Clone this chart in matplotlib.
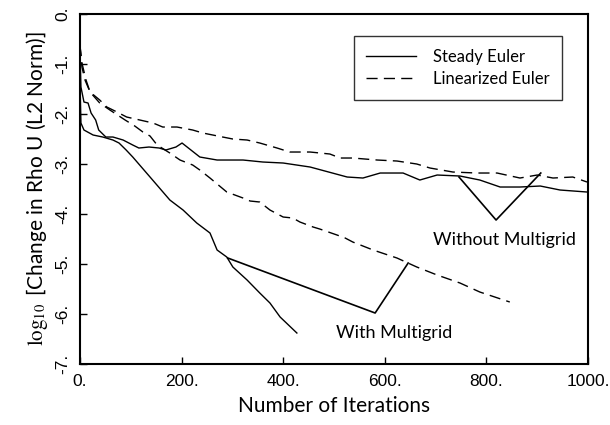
import matplotlib
matplotlib.use("Agg")
import matplotlib.pyplot as plt

plt.rcParams['mathtext.fontset'] = 'stix'

# Steady Euler, no multigrid (solid)
se_x = [0, 2, 8, 16, 22, 31, 37, 51, 65, 85, 104, 116, 136, 156, 169, 189, 201,
        236, 270, 321, 360, 400, 453, 526, 557, 591, 636, 669, 703, 748, 787,
        827, 866, 906, 945, 998]
se_y = [-0.7, -1.46, -1.76, -1.78, -1.98, -2.12, -2.32, -2.46, -2.46, -2.52, -2.62,
        -2.68, -2.66, -2.68, -2.72, -2.66, -2.58, -2.86, -2.92, -2.92, -2.96, -2.98,
        -3.06, -3.26, -3.28, -3.18, -3.18, -3.32, -3.22, -3.24, -3.32, -3.46, -3.46,
        -3.44, -3.52, -3.56]

# Steady Euler, with multigrid (solid)
se_mg_x = [0, 2, 8, 26, 45, 65, 77, 91, 104, 138, 177, 203, 230, 256, 270, 289,
           301, 329, 354, 374, 394, 427]
se_mg_y = [-1.3, -2.18, -2.32, -2.42, -2.46, -2.52, -2.58, -2.72, -2.86, -3.26,
           -3.72, -3.92, -4.18, -4.38, -4.72, -4.86, -5.06, -5.32, -5.58, -5.78,
           -6.06, -6.38]

# Linearized Euler, no multigrid (dashed)
le_x = [0, 4, 12, 20, 39, 53, 69, 92, 118, 144, 163, 191, 222, 242, 281, 301, 329,
        354, 388, 413, 453, 492, 512, 537, 585, 624, 663, 689, 734, 781, 821, 866,
        900, 931, 970, 998]
le_y = [-0.62, -0.98, -1.32, -1.56, -1.72, -1.86, -1.94, -2.06, -2.12, -2.18, -2.26,
        -2.26, -2.32, -2.38, -2.46, -2.5, -2.52, -2.58, -2.68, -2.76, -2.76, -2.8,
        -2.88, -2.88, -2.92, -2.94, -3.0, -3.08, -3.16, -3.18, -3.18, -3.28, -3.22,
        -3.28, -3.26, -3.36]

# Linearized Euler, with multigrid (dashed)
le_mg_x = [0, 4, 10, 20, 39, 59, 89, 108, 124, 138, 152, 177, 197, 222, 236, 256,
           289, 321, 335, 354, 374, 400, 419, 433, 459, 472, 506, 522, 537, 577, 624,
           663, 703, 748, 787, 846]
le_mg_y = [-0.62, -1.06, -1.32, -1.56, -1.78, -1.92, -2.12, -2.24, -2.36, -2.44,
           -2.62, -2.78, -2.92, -3.02, -3.12, -3.28, -3.56, -3.68, -3.74, -3.76,
           -3.92, -4.06, -4.08, -4.16, -4.26, -4.3, -4.42, -4.48, -4.56, -4.72,
           -4.88, -5.06, -5.22, -5.38, -5.56, -5.76]

# annotation pointers
with_mg_x = [291, 581, 646]
with_mg_y = [-4.88, -5.98, -4.98]
without_mg_x = [746, 819, 907]
without_mg_y = [-3.26, -4.12, -3.18]

xticks = [0, 200, 400, 600, 800, 1000]
yticks = [0, -1, -2, -3, -4, -5, -6, -7]

fig = plt.figure(figsize=(6.1, 4.25), dpi=100)
ax = fig.add_axes([0.131, 0.1435, 0.833, 0.8235])

lw = 1.0
dash = (0, (8, 4.5))
ax.plot(se_x, se_y, color='black', lw=lw, label='Steady Euler')
ax.plot(le_x, le_y, color='black', lw=lw, linestyle=dash, label='Linearized Euler')
ax.plot(se_mg_x, se_mg_y, color='black', lw=lw)
ax.plot(le_mg_x, le_mg_y, color='black', lw=lw, linestyle=dash)
ax.plot(with_mg_x, with_mg_y, color='black', lw=1.2)
ax.plot(without_mg_x, without_mg_y, color='black', lw=1.2)

ax.text(618, -6.38, 'With Multigrid', ha='center', va='center', fontsize=13, family='Lato')
ax.text(835, -4.52, 'Without Multigrid', ha='center', va='center', fontsize=13, family='Lato')

ax.set_xlim(0, 1000)
ax.set_ylim(-7, 0)
ax.set_xticks(xticks)
ax.set_xticklabels([f'{t}.' for t in xticks], fontsize=12.5, family='Liberation Sans')
ax.set_yticks(yticks)
ax.set_yticklabels([f'{t}.' for t in yticks], fontsize=12.5, family='Liberation Sans',
                   rotation=90, va='center')
ax.tick_params(direction='in', length=5, width=1.0, pad=7)
for s in ax.spines.values():
    s.set_linewidth(1.5)

ax.set_xlabel('Number of Iterations', fontsize=15, family='Lato', labelpad=5)
ax.set_ylabel(r'$\log_{10}$ [Change in Rho U (L2 Norm)]', fontsize=15, family='Lato',
              labelpad=4)

leg = ax.legend(loc='upper right', bbox_to_anchor=(0.949, 0.937), borderaxespad=0,
                frameon=True, fancybox=False, edgecolor='black', handlelength=3.0,
                prop={'family': 'Lato', 'size': 12}, borderpad=0.75, labelspacing=0.4,
                handletextpad=1.0)
leg.get_frame().set_linewidth(1.0)

fig.savefig('out.png', dpi=100)
